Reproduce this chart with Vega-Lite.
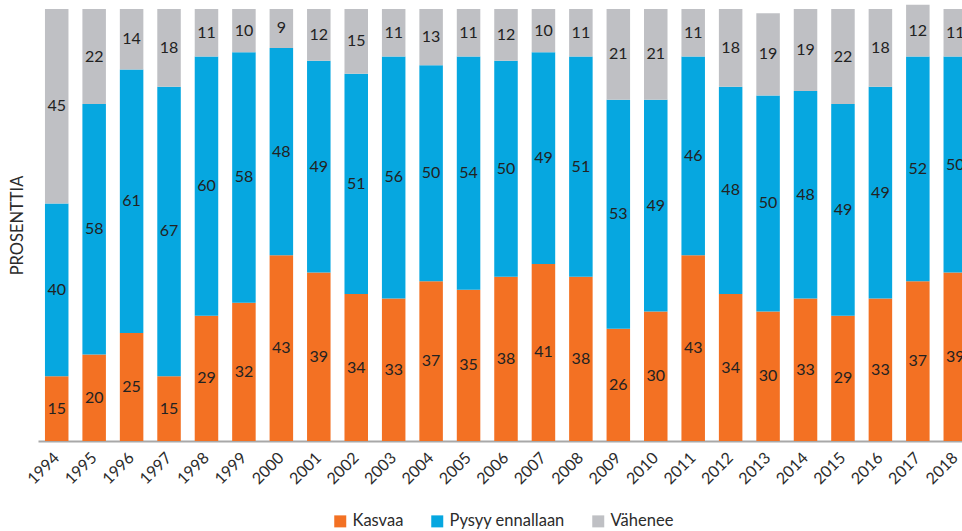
{
  "$schema": "https://vega.github.io/schema/vega-lite/v6.json",
  "autosize": "none",
  "width": 919,
  "height": 432,
  "padding": {"left": 43, "top": 9, "right": 0, "bottom": 90},
  "background": "white",
  "config": {
    "view": {"stroke": null},
    "font": "Lato"
  },
  "data": {
    "values": [
      {"year": "1994", "cat": "Kasvaa", "value": 15}, {"year": "1994", "cat": "Pysyy ennallaan", "value": 40}, {"year": "1994", "cat": "Vähenee", "value": 45},
      {"year": "1995", "cat": "Kasvaa", "value": 20}, {"year": "1995", "cat": "Pysyy ennallaan", "value": 58}, {"year": "1995", "cat": "Vähenee", "value": 22},
      {"year": "1996", "cat": "Kasvaa", "value": 25}, {"year": "1996", "cat": "Pysyy ennallaan", "value": 61}, {"year": "1996", "cat": "Vähenee", "value": 14},
      {"year": "1997", "cat": "Kasvaa", "value": 15}, {"year": "1997", "cat": "Pysyy ennallaan", "value": 67}, {"year": "1997", "cat": "Vähenee", "value": 18},
      {"year": "1998", "cat": "Kasvaa", "value": 29}, {"year": "1998", "cat": "Pysyy ennallaan", "value": 60}, {"year": "1998", "cat": "Vähenee", "value": 11},
      {"year": "1999", "cat": "Kasvaa", "value": 32}, {"year": "1999", "cat": "Pysyy ennallaan", "value": 58}, {"year": "1999", "cat": "Vähenee", "value": 10},
      {"year": "2000", "cat": "Kasvaa", "value": 43}, {"year": "2000", "cat": "Pysyy ennallaan", "value": 48}, {"year": "2000", "cat": "Vähenee", "value": 9},
      {"year": "2001", "cat": "Kasvaa", "value": 39}, {"year": "2001", "cat": "Pysyy ennallaan", "value": 49}, {"year": "2001", "cat": "Vähenee", "value": 12},
      {"year": "2002", "cat": "Kasvaa", "value": 34}, {"year": "2002", "cat": "Pysyy ennallaan", "value": 51}, {"year": "2002", "cat": "Vähenee", "value": 15},
      {"year": "2003", "cat": "Kasvaa", "value": 33}, {"year": "2003", "cat": "Pysyy ennallaan", "value": 56}, {"year": "2003", "cat": "Vähenee", "value": 11},
      {"year": "2004", "cat": "Kasvaa", "value": 37}, {"year": "2004", "cat": "Pysyy ennallaan", "value": 50}, {"year": "2004", "cat": "Vähenee", "value": 13},
      {"year": "2005", "cat": "Kasvaa", "value": 35}, {"year": "2005", "cat": "Pysyy ennallaan", "value": 54}, {"year": "2005", "cat": "Vähenee", "value": 11},
      {"year": "2006", "cat": "Kasvaa", "value": 38}, {"year": "2006", "cat": "Pysyy ennallaan", "value": 50}, {"year": "2006", "cat": "Vähenee", "value": 12},
      {"year": "2007", "cat": "Kasvaa", "value": 41}, {"year": "2007", "cat": "Pysyy ennallaan", "value": 49}, {"year": "2007", "cat": "Vähenee", "value": 10},
      {"year": "2008", "cat": "Kasvaa", "value": 38}, {"year": "2008", "cat": "Pysyy ennallaan", "value": 51}, {"year": "2008", "cat": "Vähenee", "value": 11},
      {"year": "2009", "cat": "Kasvaa", "value": 26}, {"year": "2009", "cat": "Pysyy ennallaan", "value": 53}, {"year": "2009", "cat": "Vähenee", "value": 21},
      {"year": "2010", "cat": "Kasvaa", "value": 30}, {"year": "2010", "cat": "Pysyy ennallaan", "value": 49}, {"year": "2010", "cat": "Vähenee", "value": 21},
      {"year": "2011", "cat": "Kasvaa", "value": 43}, {"year": "2011", "cat": "Pysyy ennallaan", "value": 46}, {"year": "2011", "cat": "Vähenee", "value": 11},
      {"year": "2012", "cat": "Kasvaa", "value": 34}, {"year": "2012", "cat": "Pysyy ennallaan", "value": 48}, {"year": "2012", "cat": "Vähenee", "value": 18},
      {"year": "2013", "cat": "Kasvaa", "value": 30}, {"year": "2013", "cat": "Pysyy ennallaan", "value": 50}, {"year": "2013", "cat": "Vähenee", "value": 19},
      {"year": "2014", "cat": "Kasvaa", "value": 33}, {"year": "2014", "cat": "Pysyy ennallaan", "value": 48}, {"year": "2014", "cat": "Vähenee", "value": 19},
      {"year": "2015", "cat": "Kasvaa", "value": 29}, {"year": "2015", "cat": "Pysyy ennallaan", "value": 49}, {"year": "2015", "cat": "Vähenee", "value": 22},
      {"year": "2016", "cat": "Kasvaa", "value": 33}, {"year": "2016", "cat": "Pysyy ennallaan", "value": 49}, {"year": "2016", "cat": "Vähenee", "value": 18},
      {"year": "2017", "cat": "Kasvaa", "value": 37}, {"year": "2017", "cat": "Pysyy ennallaan", "value": 52}, {"year": "2017", "cat": "Vähenee", "value": 12},
      {"year": "2018", "cat": "Kasvaa", "value": 39}, {"year": "2018", "cat": "Pysyy ennallaan", "value": 50}, {"year": "2018", "cat": "Vähenee", "value": 11}
    ]
  },
  "transform": [
    {"stack": "value", "groupby": ["year"], "sort": [{"field": "cat", "order": "ascending"}], "as": ["y0", "y1"]}
  ],
  "encoding": {
    "x": {
      "field": "year",
      "type": "ordinal",
      "scale": {"type": "band", "range": [-5, 931], "paddingInner": 0.372, "paddingOuter": 0.186},
      "axis": {
        "title": null,
        "labelAngle": -45,
        "labelAlign": "right",
        "labelBaseline": "middle",
        "labelPadding": 14,
        "labelFont": "Lato",
        "labelFontSize": 16,
        "labelColor": "#2b2b2b",
        "ticks": false,
        "domainColor": "#a8a8a8",
        "domainWidth": 2,
        "grid": false
      }
    }
  },
  "layer": [
    {
      "mark": {"type": "bar"},
      "encoding": {
        "y": {
          "field": "y0",
          "type": "quantitative",
          "scale": {"domain": [0, 100], "nice": false, "zero": true},
          "axis": {
            "title": "PROSENTTIA",
            "domain": false,
            "ticks": false,
            "labels": false,
            "grid": false,
            "titleX": -26,
            "titleY": 216,
            "titleAngle": -90,
            "titleAlign": "center",
            "titleBaseline": "middle",
            "titleFont": "Lato",
            "titleFontSize": 16.5,
            "titleFontWeight": "normal",
            "titleColor": "#2b2b2b"
          }
        },
        "y2": {"field": "y1"},
        "color": {
          "field": "cat",
          "type": "nominal",
          "scale": {
            "domain": ["Kasvaa", "Pysyy ennallaan", "Vähenee"],
            "range": ["#f37123", "#06a7e0", "#bfc0c4"]
          },
          "legend": {
            "title": null,
            "orient": "none",
            "direction": "horizontal",
            "legendX": 289,
            "legendY": 504,
            "padding": 0,
            "symbolType": "square",
            "symbolSize": 144,
            "symbolStrokeWidth": 0,
            "symbolOpacity": 1,
            "labelFont": "Lato",
            "labelFontSize": 16.5,
            "labelColor": "#2b2b2b",
            "labelOffset": 4,
            "columnPadding": 25
          }
        }
      }
    },
    {
      "transform": [
        {"fold": ["y0", "y1"], "as": ["edge", "pos"]},
        {"aggregate": [{"op": "mean", "field": "pos", "as": "mid"}], "groupby": ["year", "cat", "value"]}
      ],
      "mark": {"type": "text", "font": "Lato", "fontSize": 16, "color": "#222222", "baseline": "middle", "align": "center"},
      "encoding": {
        "y": {"field": "mid", "type": "quantitative"},
        "text": {"field": "value", "type": "quantitative"}
      }
    }
  ]
}
